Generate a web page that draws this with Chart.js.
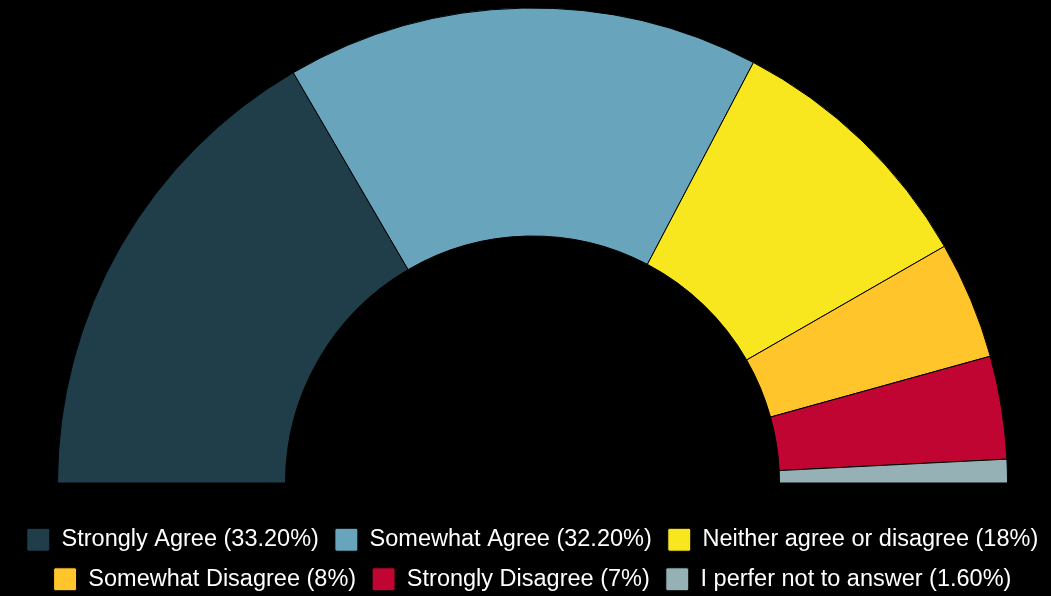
<!DOCTYPE html>
<html>
<head>
<meta charset="utf-8">
<script src="https://cdn.jsdelivr.net/npm/chart.js@4/dist/chart.umd.min.js"></script>
<style>
    html, body {
        margin: 0;
        padding: 0;
        background: #000000;
        overflow: hidden;
    }
    .grafico {
        position: relative;
        margin-left: 7px;
        width: 1051px;
        height: 601px;
    }
</style>
</head>
<body>
<div class="grafico">
    <canvas id="grafico1"></canvas>
</div>
<script>
const grafico_opiniao = document.getElementById('grafico1');

const labels = [
    'Strongly Agree (33.20%)',
    'Somewhat Agree (32.20%)',
    'Neither agree or disagree (18%)',
    'Somewhat Disagree (8%)',
    'Strongly Disagree (7%)',
    'I perfer not to answer (1.60%)'
];

const percentuais = [33.2, 32.2, 18, 8, 7, 1.6];

const cores = ['#203d4a', '#68a5bc', '#f8e61f', '#ffc52b', '#c10533', '#95b1b6'];

/* GRÁFICO MEIA ROSCA */

const data_opiniao = {
    labels: labels,
    datasets: [{
        label: 'Respostas',
        data: percentuais,
        backgroundColor: cores,
        borderColor: '#000000',
        borderWidth: 1
    }]
};

const config_opiniao = {
    type: 'doughnut',
    data: data_opiniao,
    options: {
        responsive: true,
        maintainAspectRatio: false,
        animation: false,
        rotation: -90,
        circumference: 180,
        radius: 475,
        cutout: '52%',
        layout: {
            padding: 0
        },
        plugins: {
            tooltip: {
                enabled: false
            },
            legend: {
                display: true,
                position: 'bottom',
                title: {
                    // só um espaço entre o gráfico e a legenda
                    display: true,
                    text: ' ',
                    font: {
                        size: 10,
                        lineHeight: 1
                    },
                    padding: {
                        top: 11,
                        bottom: 0
                    }
                },
                labels: {
                    boxWidth: 23,
                    boxHeight: 23,
                    useBorderRadius: true,
                    borderRadius: 2,
                    padding: 16,
                    color: '#ffffff',
                    font: {
                        size: 23.5,
                        family: "'Liberation Sans', Arial, sans-serif",
                        weight: 400
                    }
                }
            }
        }
    }
};

const grafico_meia_rosca = new Chart(grafico_opiniao, config_opiniao);
</script>
</body>
</html>
